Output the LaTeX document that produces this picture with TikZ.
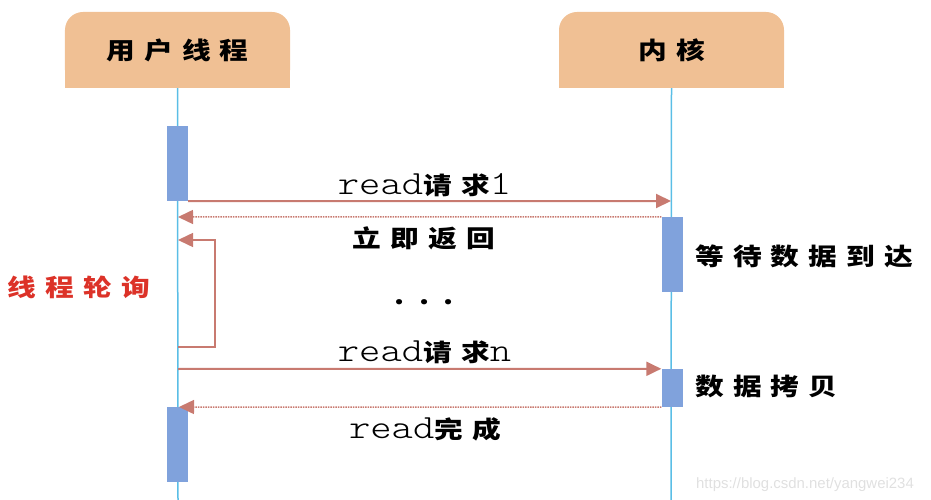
\documentclass[tikz,border=0pt]{standalone}
\usepackage{fontspec}
\usetikzlibrary{arrows.meta}
\newfontfamily\cjk[LetterSpace=32]{Noto Sans CJK SC}
\newfontfamily\monolt{lmmonolt10-regular.otf}
\newfontfamily\wmfont{Liberation Sans}
\newcommand\monotxt{\monolt\fontsize{34}{34}\selectfont}
\definecolor{headfill}{RGB}{240,192,148}
\definecolor{lifeblue}{RGB}{90,190,230}
\definecolor{barblue}{RGB}{128,162,220}
\definecolor{msgred}{RGB}{200,122,112}
\definecolor{pollred}{RGB}{220,50,40}
\tikzset{
  head/.style={fill=headfill,rounded corners=18bp,minimum width=225bp,minimum height=76bp},
  bar/.style={fill=barblue,minimum width=21bp,inner sep=0pt},
  life/.style={lifeblue,line width=1.5bp},
  msg/.style={msgred,line width=2bp,-{Triangle[length=15bp,width=14bp]}},
  ret/.style={msgred,line width=1.5bp,densely dotted,-{Triangle[length=15bp,width=14bp]}},
  lbl/.style={font=\cjk\bfseries\fontsize{24}{24}\selectfont,inner sep=0pt,xscale=1.2,transform shape},
}
\begin{document}
\begin{tikzpicture}[x=1bp,y=-1bp]
\useasboundingbox (0,0) rectangle (931,500);

\draw (177.5,50) node(USER)[head]{};
\fill[headfill] (USER.west) rectangle (USER.south east);
\draw (177.5,50) node(USERT)[lbl]{用户线程};
\draw (671.5,50) node(KERN)[head]{};
\fill[headfill] (KERN.west) rectangle (KERN.south east);
\draw (671.5,50) node(KERNT)[lbl]{内核};

\coordinate (UEND) at (178,500);
\coordinate (KEND) at (671,500);
\draw[life] (USER.south) -- (UEND);
\draw[life] (KERN.south) -- (KEND);

\draw (177.5,163.5) node(B1)[bar,minimum height=75bp]{};
\draw (177.5,444.5) node(B2)[bar,minimum height=75bp]{};
\draw (672,254.5) node(K1)[bar,minimum height=75bp]{};
\draw (672,388) node(K2)[bar,minimum height=38bp]{};

\coordinate (KR1) at (671,201);
\coordinate (UR1) at (178,217);
\coordinate (LOOPB) at (178,347);
\coordinate (LOOPT) at (178,240);
\coordinate (URN) at (178,369);
\coordinate (UBN) at (179,407);

\draw[msg] (B1.south east) -- (KR1);
\draw[ret] (K1.north west) -- (UR1);
\draw[msgred,line width=1.5bp,-{Triangle[length=15bp,width=14bp]}] (LOOPB) -- (215,347) -- (215,240) -- (LOOPT);
\draw[msg] (URN) -- (K2.north west);
\draw[ret] (K2.south west) -- (UBN);

\draw (424.5,195) node(REQ1)[lbl,anchor=base]{{\monotxt read}请求{\monotxt 1}};
\draw (424,238) node(RET1)[lbl]{立即返回};
\draw (424.5,302) node(DOTS)[lbl]{.\hspace{12bp}.\hspace{12bp}.};
\draw (424.5,362) node(REQN)[lbl,anchor=base]{{\monotxt read}请求{\monotxt n}};
\draw (425,438) node(DONE)[lbl,anchor=base]{{\monotxt read}完成};
\draw (695,256) node(WAIT)[lbl,anchor=west]{等待数据到达};
\draw (695,386) node(COPY)[lbl,anchor=west]{数据拷贝};
\draw (79,287) node(POLL)[lbl,text=pollred]{线程轮询};
\draw (805,485) node(WM)[text=black!12,font=\wmfont\fontsize{15}{15}\selectfont]{https://blog.csdn.net/yangwei234};

\end{tikzpicture}
\end{document}
